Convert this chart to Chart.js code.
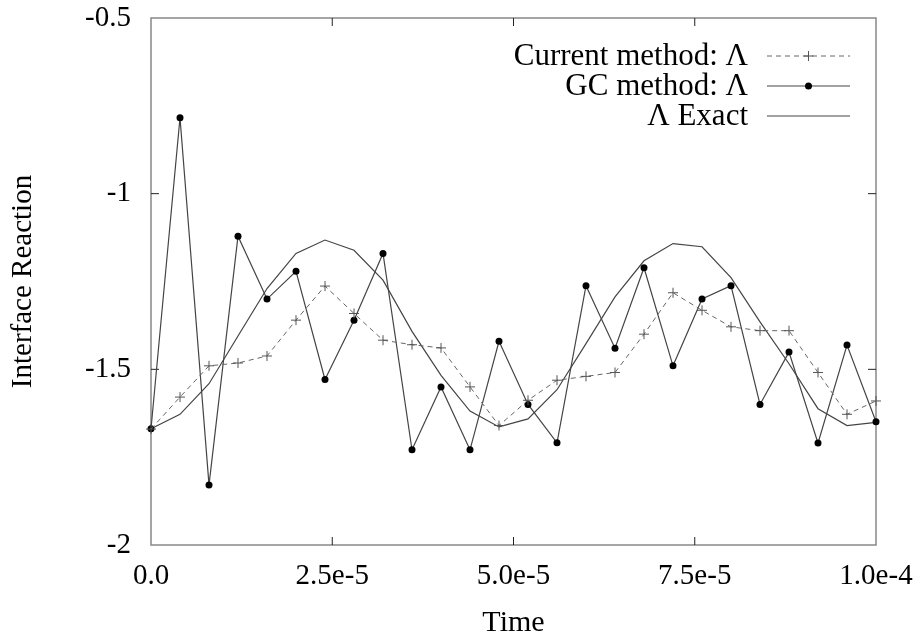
<!DOCTYPE html>
<html>
<head>
<meta charset="utf-8">
<script src="https://cdn.jsdelivr.net/npm/chart.js@4/dist/chart.umd.min.js"></script>
<style>
  body { margin: 0; background: #fff; }
</style>
</head>
<body>
<canvas id="reaction" width="919" height="639"></canvas>
<script>
// time samples (s)
let time = [0, 4e-6, 8e-6, 1.2e-5, 1.6e-5, 2e-5, 2.4e-5, 2.8e-5, 3.2e-5, 3.6e-5, 4e-5, 4.4e-5, 4.8e-5,
    5.2e-5, 5.6e-5, 6e-5, 6.4e-5, 6.8e-5, 7.2e-5, 7.6e-5, 8e-5, 8.4e-5, 8.8e-5, 9.2e-5, 9.6e-5, 1e-4];

let currentMethod = [-1.67, -1.579, -1.49, -1.482, -1.462, -1.36, -1.263, -1.341, -1.417, -1.43, -1.439, -1.55, -1.66,
    -1.588, -1.531, -1.52, -1.509, -1.40, -1.282, -1.332, -1.379, -1.39, -1.39, -1.509, -1.628, -1.59];

let gcMethod = [-1.669, -0.784, -1.829, -1.121, -1.30, -1.221, -1.529, -1.36, -1.17, -1.729, -1.55, -1.729, -1.42,
    -1.60, -1.709, -1.262, -1.44, -1.211, -1.49, -1.30, -1.262, -1.60, -1.451, -1.71, -1.431, -1.649];

let exact = [-1.669, -1.628, -1.541, -1.405, -1.27, -1.17, -1.132, -1.161, -1.246, -1.392, -1.517, -1.619, -1.664,
    -1.641, -1.558, -1.427, -1.294, -1.191, -1.142, -1.151, -1.239, -1.365, -1.484, -1.612, -1.66, -1.651];

let xTickLabels = ['0.0', '2.5e-5', '5.0e-5', '7.5e-5', '1.0e-4'];
let yTickLabels = ['-2', '-1.5', '-1', '-0.5'];
let seriesNames = ['Current method: \u039B', 'GC method: \u039B', '\u039B Exact'];

const serif = "'Liberation Serif', 'DejaVu Serif', serif";

function toPoints(values) {
    return values.map((v, i) => ({ x: time[i], y: v }));
}

// gnuplot style box with inward ticks + legend in the top right corner
const gnuplotFrame = {
    id: 'gnuplotFrame',
    beforeDatasetsDraw(chart) {
        let { ctx, chartArea: a, scales } = chart;
        ctx.save();
        ctx.strokeStyle = '#888';
        ctx.lineWidth = 1.5;
        ctx.strokeRect(a.left, a.top, a.right - a.left, a.bottom - a.top);

        ctx.strokeStyle = '#222';
        ctx.lineWidth = 1;
        ctx.beginPath();
        scales.x.ticks.forEach(t => {
            let px = scales.x.getPixelForValue(t.value);
            if (Math.abs(px - a.left) < 2 || Math.abs(px - a.right) < 2) return;
            ctx.moveTo(px, a.bottom); ctx.lineTo(px, a.bottom - 8);
            ctx.moveTo(px, a.top); ctx.lineTo(px, a.top + 8);
        });
        scales.y.ticks.forEach(t => {
            let py = scales.y.getPixelForValue(t.value);
            if (Math.abs(py - a.top) < 2 || Math.abs(py - a.bottom) < 2) return;
            ctx.moveTo(a.left, py); ctx.lineTo(a.left + 8, py);
            ctx.moveTo(a.right, py); ctx.lineTo(a.right - 8, py);
        });
        ctx.stroke();
        ctx.restore();
    },
    afterDraw(chart) {
        let ctx = chart.ctx;
        let textRight = 748, x0 = 767, x1 = 850, rowY = [56, 86, 116];
        ctx.save();
        ctx.font = '31px ' + serif;
        ctx.fillStyle = '#000';
        ctx.textAlign = 'right';
        ctx.textBaseline = 'middle';
        chart.data.datasets.forEach((ds, i) => {
            let y = rowY[i];
            ctx.fillText(ds.label, textRight, y + 1);
            ctx.strokeStyle = ds.borderColor;
            ctx.lineWidth = ds.borderWidth;
            ctx.setLineDash(ds.borderDash || []);
            ctx.beginPath();
            ctx.moveTo(x0, y); ctx.lineTo(x1, y);
            ctx.stroke();
            ctx.setLineDash([]);
            let cx = (x0 + x1) / 2;
            if (ds.pointStyle === 'cross') {
                ctx.strokeStyle = ds.pointBorderColor;
                ctx.beginPath();
                ctx.moveTo(cx - 5, y); ctx.lineTo(cx + 5, y);
                ctx.moveTo(cx, y - 5); ctx.lineTo(cx, y + 5);
                ctx.stroke();
            } else if (ds.pointRadius > 0) {
                ctx.fillStyle = ds.pointBackgroundColor;
                ctx.beginPath();
                ctx.arc(cx, y, ds.pointRadius, 0, Math.PI * 2);
                ctx.fill();
                ctx.fillStyle = '#000';
            }
        });
        ctx.restore();
    }
};

let ctx = document.getElementById('reaction').getContext('2d');
let reactionChart = new Chart(ctx, {
    type: 'line',
    data: {
        datasets: [{
            label: seriesNames[0],
            data: toPoints(currentMethod),
            borderColor: '#666',
            borderWidth: 1,
            borderDash: [5, 4],
            pointStyle: 'cross',
            pointRadius: 5,
            pointBorderWidth: 1,
            pointBorderColor: '#555',
            clip: false
        }, {
            label: seriesNames[1],
            data: toPoints(gcMethod),
            borderColor: '#444',
            borderWidth: 1.2,
            pointStyle: 'circle',
            pointRadius: 3.5,
            pointBackgroundColor: '#000',
            pointBorderColor: '#000',
            pointBorderWidth: 0,
            clip: false
        }, {
            label: seriesNames[2],
            data: toPoints(exact),
            borderColor: '#444',
            borderWidth: 1.2,
            pointRadius: 0,
            clip: false
        }]
    },
    options: {
        responsive: false,
        animation: false,
        layout: { padding: 0 },
        plugins: {
            legend: { display: false },
            tooltip: { enabled: false }
        },
        elements: { line: { tension: 0 } },
        scales: {
            x: {
                type: 'linear',
                min: 0,
                max: 1e-4,
                grid: { display: false, drawTicks: false },
                border: { display: false },
                afterFit: scale => {
                    scale.height = 94;
                    scale.paddingLeft = 0;
                    scale.paddingRight = 43;
                },
                ticks: {
                    stepSize: 2.5e-5,
                    padding: 14,
                    color: '#000',
                    font: { family: serif, size: 29 },
                    maxRotation: 0,
                    callback: (v, i) => xTickLabels[i]
                },
                title: {
                    display: true,
                    text: 'Time',
                    color: '#000',
                    font: { family: serif, size: 30 },
                    padding: { top: 0, bottom: -2 }
                }
            },
            y: {
                min: -2,
                max: -0.5,
                grid: { display: false, drawTicks: false },
                border: { display: false },
                afterFit: scale => {
                    scale.width = 151;
                    scale.paddingTop = 18;
                    scale.paddingBottom = 0;
                },
                ticks: {
                    stepSize: 0.5,
                    padding: 20,
                    color: '#000',
                    font: { family: serif, size: 29 },
                    callback: (v, i) => yTickLabels[i]
                },
                title: {
                    display: true,
                    text: 'Interface Reaction',
                    color: '#000',
                    font: { family: serif, size: 29 },
                    padding: { top: 6, bottom: 0 }
                }
            }
        }
    },
    plugins: [gnuplotFrame]
});
</script>
</body>
</html>
